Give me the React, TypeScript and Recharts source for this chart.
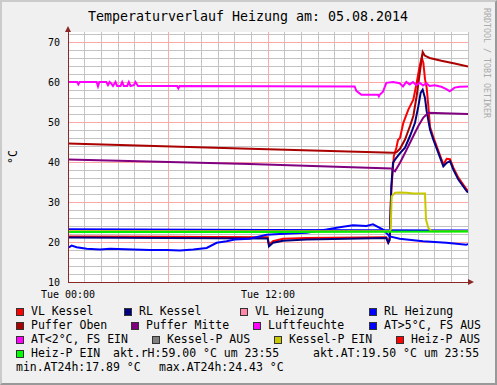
import React from 'react';
import { LineChart, Line, XAxis, YAxis, CartesianGrid, ReferenceLine } from 'recharts';

type Pt = [number, number];

const FONT = "'DejaVu Sans Mono', 'Liberation Mono', monospace";
const AXIS_COLOR = '#8a2828';

// x values are hours since Tue 00:00
const xTickHours = [0, 12];
const xTickLabels = ['Tue 00:00', 'Tue 12:00'];
const yTickValues = [10, 20, 30, 40, 50, 60, 70];
const minorHours = [1, 2, 3, 4, 5, 7, 8, 9, 10, 11, 13, 14, 15, 16, 17, 19, 20, 21, 22, 23, 24];
const majorHours = [6, 12, 18];
const minorTemps = [12, 14, 16, 18, 22, 24, 26, 28, 32, 34, 36, 38, 42, 44, 46, 48, 52, 54, 56, 58, 62, 64, 66, 68, 72];
const majorTemps = [20, 30, 40, 50, 60, 70];

const vlKessel: Pt[] = [
  [0, 21.4], [6, 21.3], [11.98, 21.2], [12.06, 19.3], [12.3, 20.2], [12.9, 20.8], [14.3, 21.0],
  [19.1, 21.2], [19.2, 20.0], [19.3, 21.0], [19.4, 33], [19.55, 41.5], [19.7, 43.5], [19.8, 45.5],
  [19.92, 46], [20.12, 49.8], [20.42, 53.1], [20.72, 55.6], [20.92, 59.8], [21.08, 63.6], [21.22, 66.1],
  [21.32, 64.8], [21.42, 60.7], [21.52, 58.6], [21.62, 54], [21.72, 48.8], [21.92, 46.2], [22.22, 42.8],
  [22.52, 39.4], [22.72, 40.8], [22.92, 40.7], [23.12, 38.6], [23.42, 36.1], [23.92, 33.1], [24, 32.8],
];

const rlKessel: Pt[] = [
  [0, 21.1], [6, 21.0], [11.98, 20.9], [12.06, 18.9], [12.3, 19.8], [12.9, 20.3], [14.3, 20.6],
  [19.1, 21.0], [19.22, 19.8], [19.3, 20.5], [19.4, 34], [19.5, 39.8], [19.62, 40.6], [19.92, 42.2],
  [20.22, 43.6], [20.52, 46.5], [20.82, 49.8], [21.02, 53.9], [21.16, 57.3], [21.28, 58.1], [21.42, 56],
  [21.52, 52.7], [21.72, 48.1], [21.92, 45.6], [22.22, 42.3], [22.52, 38.9], [22.72, 39.8], [22.92, 40.2],
  [23.12, 38.1], [23.42, 35.6], [23.92, 32.7], [24, 32.4],
];

const rlHeizung: Pt[] = [[0, 23.2], [12, 23.0], [24, 22.9]];

const pufferOben: Pt[] = [
  [0, 44.6], [10.9, 43.3], [19.5, 42.3], [19.7, 42.4], [19.92, 43.3], [20.22, 45.6], [20.52, 49],
  [20.72, 51.5], [20.92, 56.5], [21.08, 61.5], [21.22, 65.7], [21.28, 67.5], [21.4, 66.6], [21.7, 66.0],
  [22.4, 65.3], [23.2, 64.6], [24, 63.9],
];

const pufferMitte: Pt[] = [
  [0, 40.6], [10.9, 39.5], [19.4, 38.4], [19.62, 37.7], [19.92, 39.8], [20.32, 43.1], [20.72, 46.5],
  [21.02, 49], [21.32, 51.1], [21.62, 52.3], [22.5, 52.2], [24, 52.0],
];

const luftfeuchte: Pt[] = [
  [0, 60], [0.55, 60], [0.62, 59.4], [0.7, 60], [1.72, 60], [1.8, 58.9], [1.88, 60], [2.3, 60],
  [2.4, 59.2], [2.5, 60], [2.6, 59.6], [2.7, 59], [2.85, 60], [2.95, 59], [3.15, 59], [3.25, 60],
  [3.35, 59], [3.55, 59], [3.65, 60], [3.75, 59], [3.95, 59.2], [4.05, 60], [4.2, 59], [6.55, 59],
  [6.62, 58.4], [6.7, 59], [17.2, 58.9], [17.3, 57.8], [17.6, 56.8], [18.6, 56.8], [18.65, 56.4],
  [18.7, 56.8], [18.9, 57.6], [19.1, 59.8], [19.5, 60], [19.9, 59.7], [20.1, 58.9], [20.3, 60],
  [20.5, 59.4], [20.7, 60], [20.9, 59.2], [21.1, 59.8], [21.3, 59.1], [21.5, 59.7], [21.7, 59],
  [22.0, 59.2], [22.4, 58.8], [22.7, 58.2], [22.9, 57.7], [23.2, 58.6], [23.5, 58.8], [24, 58.9],
];

const aussenTemp: Pt[] = [
  [0, 18.5], [0.22, 19.1], [0.52, 18.7], [1.12, 18.3], [1.92, 18.1], [2.52, 18.3], [3.92, 18.1],
  [4.92, 18.0], [5.92, 18.0], [6.72, 17.9], [7.52, 18.1], [8.32, 18.5], [8.92, 19.8], [9.52, 20.2],
  [10.0, 20.6], [10.9, 20.8], [11.92, 21.8], [12.72, 22.0], [14.32, 22.3], [15.52, 23.1], [16.3, 23.7],
  [17.1, 24.2], [17.9, 24.0], [18.3, 24.4], [18.9, 23.1], [19.3, 21.4], [19.9, 20.8], [21.3, 20.2],
  [22.7, 19.8], [23.9, 19.3], [24, 19.5],
];

const kesselPEin: Pt[] = [
  [0, 22.7], [19.3, 22.7], [19.36, 23.1], [19.42, 31.4], [19.62, 32.3], [19.92, 32.4], [20.32, 32.3],
  [20.72, 32.1], [21.42, 32.1], [21.48, 25.6], [21.62, 23.5], [21.72, 23.1], [21.8, 22.7], [24, 22.7],
];

const heizPEin: Pt[] = [[0, 22.5], [12, 22.5], [24, 22.6]];

// drawn in this order, later ones on top
const drawOrder: { name: string; data: Pt[]; color: string }[] = [
  { name: 'VL Kessel', data: vlKessel, color: '#ff0000' },
  { name: 'RL Kessel', data: rlKessel, color: '#000080' },
  { name: 'RL Heizung', data: rlHeizung, color: '#0000ff' },
  { name: 'Puffer Oben', data: pufferOben, color: '#aa0000' },
  { name: 'Puffer Mitte', data: pufferMitte, color: '#800080' },
  { name: 'Luftfeuchte', data: luftfeuchte, color: '#ff00ff' },
  { name: 'AT>5°C, FS AUS', data: aussenTemp, color: '#0000ff' },
  { name: 'Kessel-P EIN', data: kesselPEin, color: '#c8c800' },
  { name: 'Heiz-P EIN', data: heizPEin, color: '#00ee00' },
];

const legendLabels = [
  ['VL Kessel', 'RL Kessel', 'VL Heizung', 'RL Heizung'],
  ['Puffer Oben', 'Puffer Mitte', 'Luftfeuchte', 'AT>5°C, FS AUS'],
  ['AT<2°C, FS EIN', 'Kessel-P AUS', 'Kessel-P EIN', 'Heiz-P AUS'],
  ['Heiz-P EIN'],
];
const legendColors = [
  ['#ff0000', '#000080', '#ff88aa', '#0000ff'],
  ['#aa0000', '#800080', '#ff00ff', '#0000ff'],
  ['#ff00ff', '#808080', '#c8c800', '#ff0000'],
  ['#00ff00'],
];
const legendBoxX = [
  [16, 124, 240, 369],
  [16, 131, 253, 369],
  [16, 152, 274, 396],
  [16],
];
const legendRowY = [311, 325, 339, 353, 367];

const infoTexts = ['akt.rH:59.00 °C um 23:55', 'akt.AT:19.50 °C um 23:55'];
const infoX = [113, 313];
const statTexts = ['min.AT24h:17.89 °C', 'max.AT24h:24.43 °C'];
const statX = [16, 159];

const toPoints = (pts: Pt[]) => pts.map(([t, v]) => ({ t, v }));

const legendText: React.CSSProperties = {
  position: 'absolute',
  fontFamily: FONT,
  fontSize: 11.5,
  lineHeight: '14px',
  color: '#000',
  whiteSpace: 'pre',
};

const gridLine = (stroke: string) => ({
  stroke,
  strokeWidth: 1,
  shapeRendering: 'crispEdges',
  ...({ zIndex: -50 } as any),
});

export default function App() {
  return (
    <div
      style={{
        position: 'absolute',
        left: 0,
        top: 0,
        width: 497,
        height: 385,
        background: '#f0f0f0',
        overflow: 'hidden',
      }}
    >
      <svg width={0} height={0} style={{ position: 'absolute' }}>
        <defs>
          <marker
            id="rrdArrow"
            viewBox="0 0 6 6"
            refX={0}
            refY={3}
            markerWidth={6}
            markerHeight={6}
            markerUnits="userSpaceOnUse"
            orient="auto-start-reverse"
          >
            <path d="M0,0 L6,3 L0,6 z" fill={AXIS_COLOR} />
          </marker>
        </defs>
      </svg>

      <div style={{ position: 'absolute', left: 0, top: 0 }}>
        <LineChart width={497} height={385} margin={{ top: 32, right: 29, bottom: 73, left: 0 }}>
          <CartesianGrid fill="#ffffff" fillOpacity={1} horizontal={false} vertical={false} />
          {minorHours.map((h) => (
            <ReferenceLine key={`mx${h}`} x={h} {...gridLine('#c4c4c4')} />
          ))}
          {minorTemps.map((v) => (
            <ReferenceLine key={`my${v}`} y={v} {...gridLine('#c4c4c4')} />
          ))}
          {majorHours.map((h) => (
            <ReferenceLine key={`vx${h}`} x={h} {...gridLine('#ffa8a8')} />
          ))}
          {majorTemps.map((v) => (
            <ReferenceLine key={`hy${v}`} y={v} {...gridLine('#ffa8a8')} />
          ))}
          <XAxis
            dataKey="t"
            type="number"
            domain={[0, 24]}
            allowDataOverflow
            ticks={xTickHours}
            interval={0}
            tickFormatter={(v: number) => xTickLabels[xTickHours.indexOf(v)] ?? ''}
            height={30}
            tickSize={2}
            tickMargin={7}
            tickLine={false}
            tick={{ fontSize: 10, fill: '#000', fontFamily: FONT }}
            axisLine={{ stroke: AXIS_COLOR, strokeWidth: 1, shapeRendering: 'crispEdges', markerEnd: 'url(#rrdArrow)' } as any}
          />
          <YAxis
            type="number"
            domain={[10, 72.5]}
            allowDataOverflow
            ticks={yTickValues}
            interval={0}
            width={68}
            tickSize={2}
            tickMargin={6}
            tickLine={false}
            tick={{ fontSize: 10, fill: '#000', fontFamily: FONT }}
            axisLine={{ stroke: AXIS_COLOR, strokeWidth: 1, shapeRendering: 'crispEdges', markerStart: 'url(#rrdArrow)' } as any}
          />
          {drawOrder.map((s) => (
            <Line
              key={s.name}
              name={s.name}
              data={toPoints(s.data)}
              dataKey="v"
              type="linear"
              stroke={s.color}
              strokeWidth={2}
              dot={false}
              activeDot={false}
              isAnimationActive={false}
            />
          ))}
        </LineChart>
      </div>

      <svg
        width={497}
        height={385}
        style={{ position: 'absolute', left: 0, top: 0, pointerEvents: 'none' }}
      >
        <text
          x={248}
          y={16.5}
          textAnchor="middle"
          dominantBaseline="central"
          fontFamily={FONT}
          fontSize={13.3}
          fill="#000"
        >
          Temperaturverlauf Heizung am: 05.08.2014
        </text>
        <text
          transform="translate(13,157) rotate(-90)"
          textAnchor="middle"
          dominantBaseline="central"
          fontFamily={FONT}
          fontSize={11.5}
          fill="#000"
        >
          °C
        </text>
        <text
          transform="translate(487,63) rotate(90)"
          textAnchor="middle"
          dominantBaseline="central"
          fontFamily={FONT}
          fontSize={8.3}
          fill="#ababab"
        >
          RRDTOOL / TOBI OETIKER
        </text>
      </svg>

      {legendLabels.map((row, r) =>
        row.map((label, c) => (
          <React.Fragment key={label}>
            <div
              style={{
                position: 'absolute',
                left: legendBoxX[r][c],
                top: legendRowY[r] - 3,
                width: 8,
                height: 8,
                boxSizing: 'border-box',
                border: '1px solid #333',
                background: legendColors[r][c],
              }}
            />
            <div style={{ ...legendText, left: legendBoxX[r][c] + 15, top: legendRowY[r] - 7 }}>
              {label}
            </div>
          </React.Fragment>
        ))
      )}
      {infoTexts.map((t, i) => (
        <div key={t} style={{ ...legendText, left: infoX[i], top: legendRowY[3] - 7 }}>
          {t}
        </div>
      ))}
      {statTexts.map((t, i) => (
        <div key={t} style={{ ...legendText, left: statX[i], top: legendRowY[4] - 7 }}>
          {t}
        </div>
      ))}

      <div
        style={{
          position: 'absolute',
          left: 0,
          top: 0,
          width: 497,
          height: 385,
          boxSizing: 'border-box',
          borderLeft: '2px solid #cbcbcb',
          borderTop: '2px solid #cbcbcb',
          borderRight: '2px solid #999999',
          borderBottom: '2px solid #999999',
          pointerEvents: 'none',
        }}
      />
    </div>
  );
}
